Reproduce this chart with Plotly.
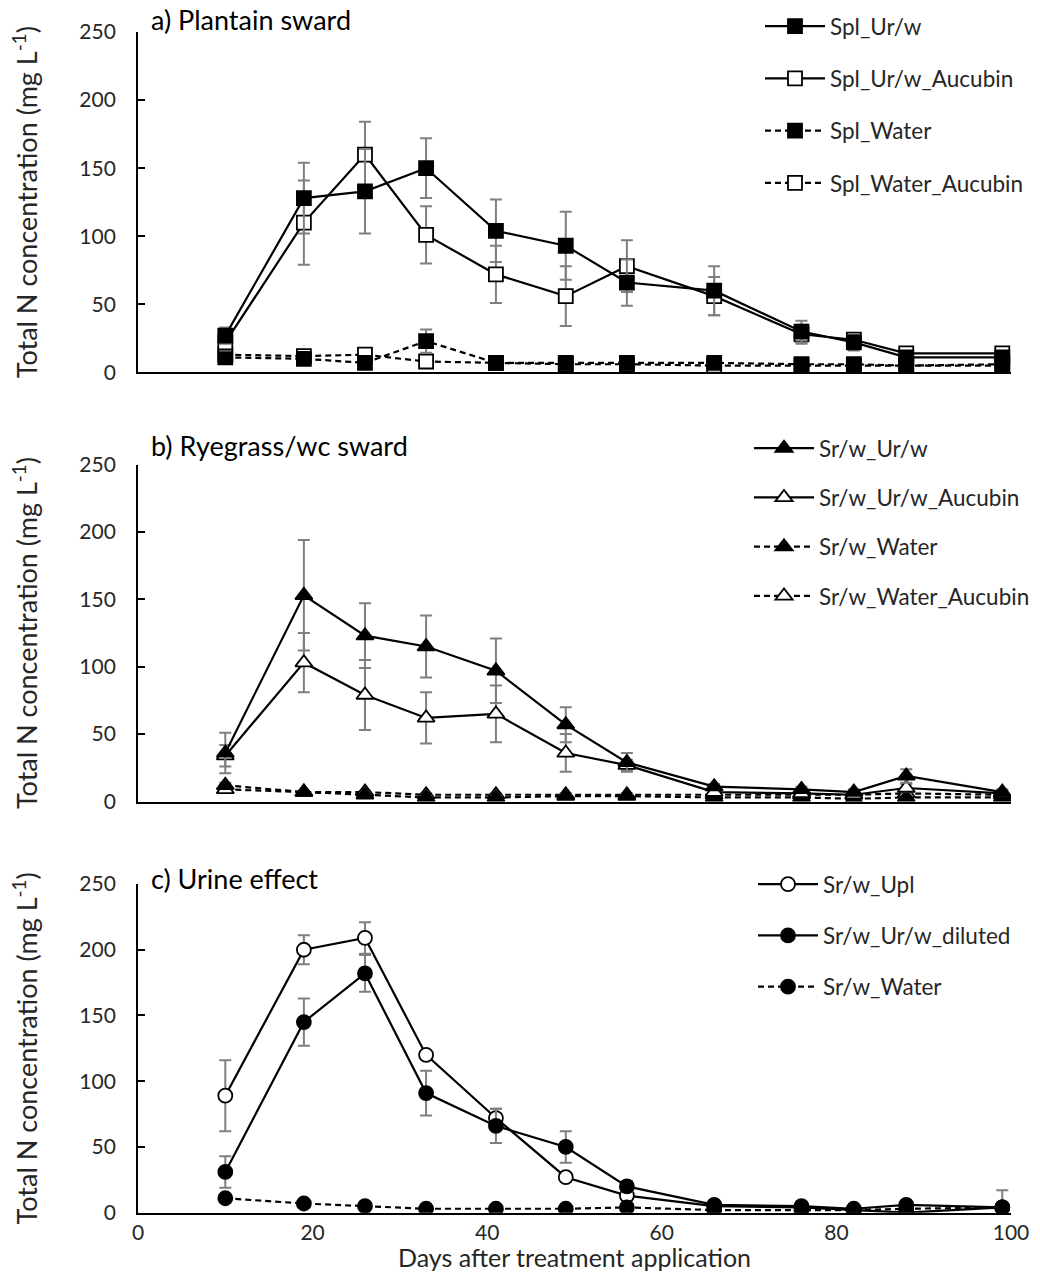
import plotly.graph_objects as go

# Sampling days (days after treatment application)
days = [10, 19, 26, 33, 41, 49, 56, 66, 76, 82, 88, 99]

# a) Plantain sward
spl_urw = [27, 128, 133, 150, 104, 93, 66, 60, 30, 22, 11, 11]
spl_urw_err = [6, 26, 31, 22, 23, 25, 17, 18, 8, 6, 3, 3]
spl_urw_auc = [22, 110, 160, 101, 72, 56, 78, 56, 28, 24, 14, 14]
spl_urw_auc_err = [6, 31, 24, 21, 21, 22, 19, 14, 7, 5, 2, 2]
spl_water = [11, 10, 7, 23, 7, 7, 7, 7, 6, 6, 5, 6]
spl_water_err = [2, 2, 1, 8.5, 1, 1, 1, 1, 1, 1, 1, 1]
spl_water_auc = [13, 12, 13, 8, 7, 6, 6, 5, 5, 5, 5, 5]
spl_water_auc_err = [2, 2, 2, 2, 1, 1, 1, 1, 1, 1, 1, 1]

# b) Ryegrass/white clover sward
srw_urw = [36, 153, 123, 115, 97, 57, 29, 11, 9, 7, 19, 7]
srw_urw_err = [15, 41, 24, 23, 24, 13, 7, 2, 2, 2, 5, 2]
srw_urw_auc = [34, 103, 79, 62, 65, 36, 27, 7, 6, 5, 10, 6]
srw_urw_auc_err = [8, 22, 26, 19, 21, 14, 4, 2, 2, 2, 3, 2]
srw_water = [12, 7, 5, 3, 3, 4, 4, 3, 3, 2, 3, 3]
srw_water_err = [2, 1, 1, 1, 1, 1, 1, 1, 1, 1, 1, 1]
srw_water_auc = [9, 7, 7, 5, 5, 5, 5, 5, 5, 5, 6, 5]
srw_water_auc_err = [2, 1, 1, 1, 1, 1, 1, 1, 1, 1, 1, 1]

# c) Urine effect
srw_upl = [89, 200, 209, 120, 72, 27, 13, 5, 4, 2, 0, 4]
srw_upl_err = [27, 11, 12, 3, 7, 3, 3, 1, 1, 1, 1, 13]
srw_dil = [31, 145, 182, 91, 66, 50, 20, 6, 5, 3, 6, 4]
srw_dil_err = [12, 18, 14, 17, 13, 12, 4, 1, 1, 1, 1, 1]
srw_water_c = [11, 7, 5, 3, 3, 3, 4, 2, 2, 2, 3, 4]
srw_water_c_err = [2, 1, 1, 1, 1, 1, 1, 1, 1, 1, 1, 1]

y_ticks = [0, 50, 100, 150, 200, 250]
x_ticks = [0, 20, 40, 60, 80, 100]

FONT = "Lato"
TXT = "#262626"
ERR_COLOR = "#7f7f7f"
DASH = "6px,4px"

fig = go.Figure()


def add_series(name, y, err, symbol, filled, dashed, xa, ya, legend, rank, size=14):
    fig.add_trace(go.Scatter(
        x=days, y=y, name=name, mode="lines+markers",
        xaxis=xa, yaxis=ya, legend=legend, legendgroup=name + ya,
        legendrank=rank,
        line=dict(color="black", width=2.2, dash=DASH if dashed else "solid"),
        marker=dict(symbol=symbol, size=size,
                    color="black" if filled else "white",
                    line=dict(color="black", width=1.8)),
        error_y=dict(type="data", array=err, color=ERR_COLOR,
                     thickness=2, width=6),
    ))


# panel a (control series drawn first so the urine series sit on top)
add_series("Spl_Water_Aucubin", spl_water_auc, spl_water_auc_err, "square", False, True, "x", "y", "legend", 4)
add_series("Spl_Water", spl_water, spl_water_err, "square", True, True, "x", "y", "legend", 3)
add_series("Spl_Ur/w_Aucubin", spl_urw_auc, spl_urw_auc_err, "square", False, False, "x", "y", "legend", 2)
add_series("Spl_Ur/w", spl_urw, spl_urw_err, "square", True, False, "x", "y", "legend", 1)

# panel b
add_series("Sr/w_Water_Aucubin", srw_water_auc, srw_water_auc_err, "triangle-up", False, True, "x2", "y2", "legend2", 4, 15)
add_series("Sr/w_Water", srw_water, srw_water_err, "triangle-up", True, True, "x2", "y2", "legend2", 3, 15)
add_series("Sr/w_Ur/w_Aucubin", srw_urw_auc, srw_urw_auc_err, "triangle-up", False, False, "x2", "y2", "legend2", 2, 15)
add_series("Sr/w_Ur/w", srw_urw, srw_urw_err, "triangle-up", True, False, "x2", "y2", "legend2", 1, 15)

# panel c
add_series("Sr/w_Upl", srw_upl, srw_upl_err, "circle", False, False, "x3", "y3", "legend3", 1, 14)
add_series("Sr/w_Ur/w_diluted", srw_dil, srw_dil_err, "circle", True, False, "x3", "y3", "legend3", 2, 14)
add_series("Sr/w_Water", srw_water_c, srw_water_c_err, "circle", True, True, "x3", "y3", "legend3", 3, 14)

H = 1272.0
domains = {
    "": (1 - 372.4 / H, 1 - 32 / H),
    "2": (1 - 801.5 / H, 1 - 464.5 / H),
    "3": (1 - 1212.7 / H, 1 - 884 / H),
}

ytitle = "Total N concentration (mg L<sup>-1</sup>)"
axis_common = dict(showline=True, linecolor="black", linewidth=1.8,
                   showgrid=False, zeroline=False, mirror=False)

layout = dict(
    width=1040, height=1272,
    margin=dict(l=138, r=29, t=0, b=0),
    paper_bgcolor="white", plot_bgcolor="white",
    font=dict(family=FONT, color=TXT, size=22),
    showlegend=True,
)

for suffix, (d0, d1) in domains.items():
    layout["xaxis" + suffix] = dict(
        axis_common, range=[0, 100], tickvals=x_ticks, ticks="",
        showticklabels=(suffix == "3"), anchor="y" + suffix,
        tickfont=dict(size=21, family=FONT, color=TXT),
    )
    layout["yaxis" + suffix] = dict(
        axis_common, range=[0, 250], tickvals=y_ticks, ticks="inside",
        ticklen=7, tickwidth=1.8, tickcolor="black",
        ticklabelstandoff=16,
        domain=[d0, d1], anchor="x" + suffix,
        tickfont=dict(size=21, family=FONT, color=TXT),
        title=dict(text=ytitle, font=dict(size=27, family=FONT, color=TXT),
                   standoff=34),
        automargin=False,
    )
    if suffix:
        layout["xaxis" + suffix]["matches"] = "x"

layout["xaxis3"]["title"] = dict(text="Days after treatment application",
                                 font=dict(size=25, family=FONT, color=TXT),
                                 standoff=0)
layout["xaxis3"]["automargin"] = False

W = 1040 - 138 - 29
leg_common = dict(xanchor="left", yanchor="top", bgcolor="rgba(0,0,0,0)",
                  traceorder="grouped",
                  font=dict(size=22.5, family=FONT, color=TXT),
                  itemwidth=60)
layout["legend"] = dict(leg_common, x=(760 - 138) / W, y=1 - 5 / H, tracegroupgap=20)
layout["legend2"] = dict(leg_common, x=(749 - 138) / W, y=1 - 427 / H, tracegroupgap=17)
layout["legend3"] = dict(leg_common, x=(753 - 138) / W, y=1 - 863 / H, tracegroupgap=19)

fig.update_layout(**layout)

panel_titles = [("a) Plantain sward", 19), ("b) Ryegrass/wc sward", 445),
                ("c) Urine effect", 878)]
for text, ypx in panel_titles:
    fig.add_annotation(text=text, xref="paper", yref="paper",
                       x=(149 - 138) / W, y=1 - ypx / H, xanchor="left",
                       yanchor="middle", showarrow=False,
                       font=dict(size=27, family=FONT, color="black"))

fig.write_html("out.html")
